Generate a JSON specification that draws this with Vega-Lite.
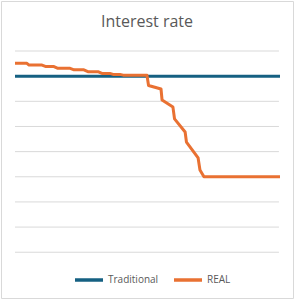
{
  "$schema": "https://vega.github.io/schema/vega-lite/v6.json",
  "width": 292,
  "height": 297,
  "autosize": {"type": "none"},
  "padding": {"left": 1, "top": 1, "right": 1, "bottom": 1},
  "background": "white",
  "title": {"text": "Interest rate", "anchor": "middle", "offset": -29, "font": "Open Sans", "fontSize": 16, "fontWeight": "normal", "color": "#595959"},
  "config": {"view": {"stroke": "#d9d9d9", "strokeWidth": 1}},
  "datasets": {
    "grid": [
      {"x0": 0, "x1": 99.6, "v": 0}, {"x0": 0, "x1": 99.6, "v": 1}, {"x0": 0, "x1": 99.6, "v": 2},
      {"x0": 0, "x1": 99.6, "v": 3}, {"x0": 0, "x1": 99.6, "v": 4}, {"x0": 0, "x1": 99.6, "v": 5},
      {"x0": 0, "x1": 99.6, "v": 6}, {"x0": 0, "x1": 99.6, "v": 7}, {"x0": 0, "x1": 99.6, "v": 8}
    ],
    "rates": [
      {"series": "Traditional", "t": 0, "rate": 7.0},
      {"series": "Traditional", "t": 100, "rate": 7.0},
      {"series": "REAL", "t": 0, "rate": 7.51},
      {"series": "REAL", "t": 4.5, "rate": 7.51},
      {"series": "REAL", "t": 5.3, "rate": 7.44},
      {"series": "REAL", "t": 10.2, "rate": 7.44},
      {"series": "REAL", "t": 11.7, "rate": 7.38},
      {"series": "REAL", "t": 14.7, "rate": 7.38},
      {"series": "REAL", "t": 16.2, "rate": 7.31},
      {"series": "REAL", "t": 20.8, "rate": 7.31},
      {"series": "REAL", "t": 22.3, "rate": 7.25},
      {"series": "REAL", "t": 26.0, "rate": 7.25},
      {"series": "REAL", "t": 27.5, "rate": 7.18},
      {"series": "REAL", "t": 31.3, "rate": 7.18},
      {"series": "REAL", "t": 32.8, "rate": 7.11},
      {"series": "REAL", "t": 35.8, "rate": 7.11},
      {"series": "REAL", "t": 37.0, "rate": 7.07},
      {"series": "REAL", "t": 39.6, "rate": 7.07},
      {"series": "REAL", "t": 40.8, "rate": 7.04},
      {"series": "REAL", "t": 49.8, "rate": 7.04},
      {"series": "REAL", "t": 50.4, "rate": 6.63},
      {"series": "REAL", "t": 55.1, "rate": 6.49},
      {"series": "REAL", "t": 55.5, "rate": 6.05},
      {"series": "REAL", "t": 59.6, "rate": 5.77},
      {"series": "REAL", "t": 60.2, "rate": 5.30},
      {"series": "REAL", "t": 64.2, "rate": 4.78},
      {"series": "REAL", "t": 64.7, "rate": 4.38},
      {"series": "REAL", "t": 69.1, "rate": 3.75},
      {"series": "REAL", "t": 69.8, "rate": 3.27},
      {"series": "REAL", "t": 71.3, "rate": 3.0},
      {"series": "REAL", "t": 100, "rate": 3.0}
    ]
  },
  "layer": [
    {
      "data": {"name": "grid"},
      "mark": {"type": "rule", "color": "#d9d9d9", "strokeWidth": 1},
      "encoding": {
        "x": {"field": "x0", "type": "quantitative", "scale": {"domain": [-5.283, 104.906], "nice": false, "zero": false}, "axis": null},
        "x2": {"field": "x1"},
        "y": {"field": "v", "type": "quantitative", "scale": {"domain": [-1.819, 9.988], "nice": false, "zero": false}, "axis": null}
      }
    },
    {
      "data": {"name": "rates"},
      "mark": {"type": "line", "strokeWidth": 3, "strokeJoin": "round", "strokeCap": "butt"},
      "encoding": {
        "x": {"field": "t", "type": "quantitative", "scale": {"domain": [-5.283, 104.906], "nice": false, "zero": false}, "axis": null},
        "y": {"field": "rate", "type": "quantitative", "scale": {"domain": [-1.819, 9.988], "nice": false, "zero": false}, "axis": null},
        "color": {
          "field": "series", "type": "nominal",
          "scale": {"domain": ["Traditional", "REAL"], "range": ["#156082", "#E97132"]},
          "legend": {
            "title": null, "orient": "none", "direction": "horizontal",
            "legendX": 72, "legendY": 263,
            "symbolType": "stroke", "symbolSize": 784, "symbolStrokeWidth": 3.5,
            "labelFont": "Open Sans", "labelFontSize": 10, "labelColor": "#595959",
            "labelOffset": 3, "columnPadding": 8, "gridAlign": "none"
          }
        },
        "order": {"field": "t", "type": "quantitative"}
      }
    }
  ]
}
